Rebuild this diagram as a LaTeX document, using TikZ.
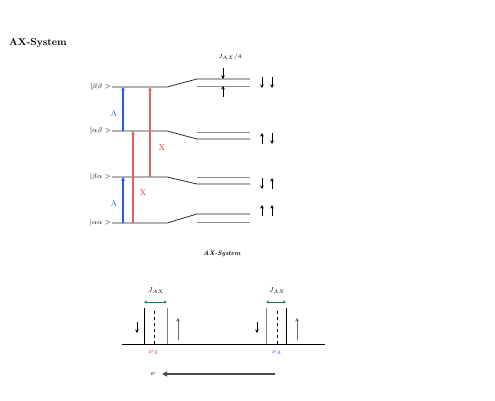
\documentclass[tikz,border=0pt]{standalone}
\usetikzlibrary{arrows.meta}
\definecolor{ablue}{RGB}{40,90,240}
\definecolor{xred}{RGB}{215,45,45}
\definecolor{jgreen}{RGB}{20,120,90}
\begin{document}
\begin{tikzpicture}[x=1pt,y=-1pt,
  lev/.style={line width=0.8pt,black!85},
  levg/.style={line width=0.8pt,black!45},
  atr/.style={-{Triangle[length=3.5pt,width=3.5pt]},line width=1.1pt,ablue},
  xtr/.style={-{Triangle[length=3.5pt,width=3.5pt]},line width=1.3pt,xred!75},
  ket/.style={font=\fontsize{7}{7}\selectfont,anchor=east,inner sep=1pt},
  spa/.style={-{Stealth[length=3.5pt,width=3.5pt]},line width=0.8pt},
  lab/.style={font=\fontsize{8.5}{8.5}\selectfont,inner sep=0pt},
  sm/.style={-{Stealth[length=3.5pt,width=3.5pt]},line width=0.8pt},
  peak/.style={line width=1pt},
  ttl/.style={font=\fontsize{10}{10}\selectfont\bfseries,inner sep=0pt}]
\useasboundingbox (0,0) rectangle (495,401);
% title
\node[ttl,anchor=west] (title) at (9,43) {AX-System};
% level coordinates
\coordinate (bbL) at (112,87);  \coordinate (bbM) at (167,87);
\coordinate (abL) at (112,131); \coordinate (abM) at (167,131);
\coordinate (baL) at (112,177); \coordinate (baM) at (167,177);
\coordinate (aaL) at (112,223); \coordinate (aaM) at (167,223);
\node[ket] (kbb) at (bbL) {$|\beta\beta>$};
\node[ket] (kab) at (abL) {$|\alpha\beta>$};
\node[ket] (kba) at (baL) {$|\beta\alpha>$};
\node[ket] (kaa) at (aaL) {$|\alpha\alpha>$};
% levels
\draw[lev] (bbL) -- (bbM) -- (197,79) -- (250,79);
\draw[levg] (197,86) -- (250,86);
\draw[lev] (abL) -- (abM) -- (197,139) -- (250,139);
\draw[levg] (197,132) -- (250,132);
\draw[lev] (baL) -- (baM) -- (197,184) -- (250,184);
\draw[levg] (197,177) -- (250,177);
\draw[lev] (aaL) -- (aaM) -- (197,214) -- (250,214);
\draw[levg] (197,222) -- (250,222);
% transitions
\coordinate (a1s) at (123,131); \coordinate (a1e) at (123,87);
\coordinate (a2s) at (123,223); \coordinate (a2e) at (123,177);
\coordinate (x1s) at (133,223); \coordinate (x1e) at (133,131);
\coordinate (x2s) at (150,177); \coordinate (x2e) at (150,87);
\draw[atr] (a1s) -- (a1e);
\draw[atr] (a2s) -- (a2e);
\draw[xtr] (x1s) -- (x1e);
\draw[xtr] (x2s) -- (x2e);
\node[lab,text=ablue] (la1) at (114,113) {A};
\node[lab,text=ablue] (la2) at (114,203) {A};
\node[lab,text=xred] (lx1) at (162,148) {X};
\node[lab,text=xred] (lx2) at (143,193) {X};
% spins
\draw[spa] (262,77) -- (262,88);
\draw[spa] (272,77) -- (272,88);
\draw[spa] (262,144) -- (262,133);
\draw[spa] (272,133) -- (272,144);
\draw[spa] (262,178) -- (262,189);
\draw[spa] (272,189) -- (272,178);
\draw[spa] (262,216) -- (262,205);
\draw[spa] (272,216) -- (272,205);
% J/4
\node[font=\fontsize{6.5}{6.5}\selectfont,inner sep=0pt] (j4) at (230,57) {$J_{AX}/4$};
\coordinate (j4a) at (223,68); \coordinate (j4b) at (223,79);
\coordinate (j4c) at (223,97); \coordinate (j4d) at (223,86);
\draw[sm] (j4a) -- (j4b);
\draw[sm] (j4c) -- (j4d);
% second title
\node[font=\fontsize{6.5}{6.5}\selectfont\bfseries\itshape,inner sep=0pt] (t2) at (222,254) {AX-System};
% spectrum
\coordinate (b0) at (122,344); \coordinate (b1) at (325,344);
\draw[line width=0.8pt] (b0) -- (b1);
\draw[peak,black] (144,344) -- (144,308);
\draw[peak,dashed,line width=0.6pt] (154,344) -- (154,308);
\draw[peak,black!50] (167,344) -- (167,308);
\draw[peak,black!50] (266,344) -- (266,308);
\draw[peak,dashed,line width=0.6pt] (277,344) -- (277,308);
\draw[peak,black] (286,344) -- (286,308);
\coordinate (jx1) at (144,302); \coordinate (jx2) at (167,302);
\coordinate (ja1) at (266,302); \coordinate (ja2) at (286,302);
\draw[{Stealth[length=3pt,width=3pt]}-{Stealth[length=3pt,width=3pt]},jgreen,line width=0.7pt] (jx1) -- (jx2);
\draw[{Stealth[length=3pt,width=3pt]}-{Stealth[length=3pt,width=3pt]},jgreen,line width=0.7pt] (ja1) -- (ja2);
\node[font=\fontsize{7}{7}\selectfont,inner sep=0pt] (jlx) at (156,291) {$J_{AX}$};
\node[font=\fontsize{7}{7}\selectfont,inner sep=0pt] (jla) at (277,291) {$J_{AX}$};
\draw[sm] (137,322) -- (137,333);
\draw[sm,black!60] (178,340) -- (178,318);
\draw[sm] (257,322) -- (257,333);
\draw[sm,black!60] (297,340) -- (297,318);
\node[font=\fontsize{7}{7}\selectfont\bfseries,text=xred,inner sep=0pt] (nx) at (154,352) {$\nu_X$};
\node[font=\fontsize{7}{7}\selectfont\bfseries,text=ablue,inner sep=0pt] (na) at (277,352) {$\nu_A$};
% nu axis
\node[font=\fontsize{7}{7}\selectfont,inner sep=0pt] (nu) at (153,374) {$\nu$};
\coordinate (nuS) at (275,374);
\coordinate (nuE) at (162,374);
\draw[-{Triangle[length=5pt,width=5pt]},line width=1.2pt,black!70] (nuS) -- (nuE);
\end{tikzpicture}
\end{document}
